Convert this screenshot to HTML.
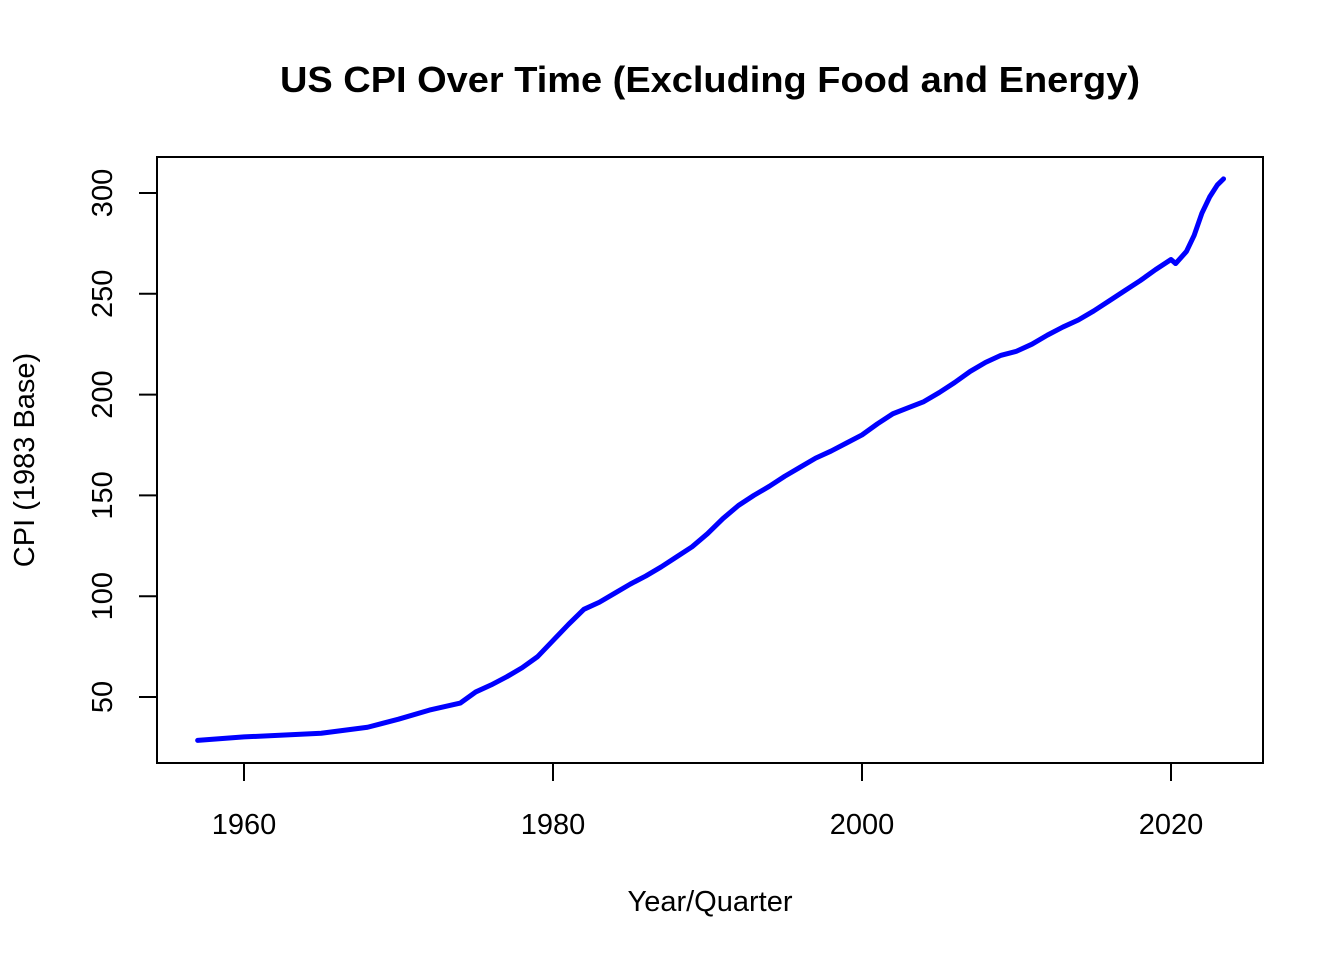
<!DOCTYPE html>
<html><head><meta charset="utf-8"><style>
body{margin:0;background:#fff;}
svg text{font-family:"Liberation Sans",Arial,sans-serif;}
</style></head><body>
<svg id="chart" width="1344" height="960">
<text x="710" y="92" text-anchor="middle" font-size="36" font-weight="bold" textLength="860" lengthAdjust="spacingAndGlyphs">US CPI Over Time (Excluding Food and Energy)</text>
<rect x="157" y="157" width="1106" height="606" fill="none" stroke="#000" stroke-width="2"/>
<g id="xaxis"></g>
<g id="yaxis"></g>
<text x="710" y="911" text-anchor="middle" font-size="29">Year/Quarter</text>
<text transform="translate(34,460) rotate(-90)" text-anchor="middle" font-size="29">CPI (1983 Base)</text>
<polyline id="line" fill="none" stroke="#0000ff" stroke-width="5" stroke-linejoin="round" stroke-linecap="round"/>
</svg>
<script>
const years=[1957,1960,1965,1968,1970,1972,1974,1975,1976,1977,1978,1979,1980,1981,1982,1983,1984,1985,1986,1987,1988,1989,1990,1991,1992,1993,1994,1995,1996,1997,1998,1999,2000,2001,2002,2003,2004,2005,2006,2007,2008,2009,2010,2011,2012,2013,2014,2015,2016,2017,2018,2019,2020,2020.3,2021,2021.5,2022,2022.5,2023,2023.4];
const cpi=[28.5,30.2,32,35,39,43.5,47,52.5,56,60,64.5,70,78,86,93.5,97,101.5,106,110,114.5,119.5,124.5,131,138.5,145,150,154.5,159.5,164,168.5,172,176,180,185.5,190.5,193.5,196.5,201,206,211.5,216,219.5,221.5,225,229.5,233.5,237,241.5,246.5,251.5,256.5,262,267,265,271,279,290,298,304,307];
const xTicks=[1960,1980,2000,2020];
const yTicks=[50,100,150,200,250,300];
const X=y=>244+(y-1960)*15.45;
const Y=v=>697-(v-50)*2.016;
const NS="http://www.w3.org/2000/svg";
document.getElementById('line').setAttribute('points',years.map((y,i)=>X(y)+','+Y(cpi[i])).join(' '));
const xa=document.getElementById('xaxis'),ya=document.getElementById('yaxis');
function mk(tag,attrs,parent){const e=document.createElementNS(NS,tag);for(const k in attrs)e.setAttribute(k,attrs[k]);parent.appendChild(e);return e;}
mk('line',{x1:X(1960),x2:X(2020),y1:763,y2:763,stroke:'#000','stroke-width':2},xa);
xTicks.forEach(t=>{
 const l=mk('line',{x1:X(t),x2:X(t),y1:763,y2:781,stroke:'#000','stroke-width':2},xa);
 
 
 const tx=mk('text',{x:X(t),y:834,'text-anchor':'middle','font-size':29},xa);
 tx.textContent=t;
 
 
});
mk('line',{x1:157,x2:157,y1:Y(50),y2:Y(300),stroke:'#000','stroke-width':2},ya);
yTicks.forEach(t=>{
 const l=mk('line',{x1:139,x2:157,y1:Y(t),y2:Y(t),stroke:'#000','stroke-width':2},ya);
 
 
 const tx=mk('text',{transform:`translate(112,${Y(t)}) rotate(-90)`,'text-anchor':'middle','font-size':29},ya);
 tx.textContent=t;
 
 
});
</script>
</body></html>
